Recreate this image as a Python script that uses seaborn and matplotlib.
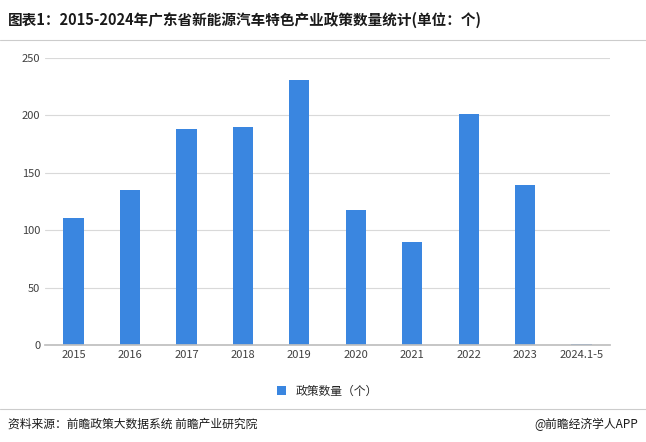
import matplotlib
matplotlib.use("Agg")
import matplotlib.pyplot as plt
import seaborn as sns
import pandas as pd

categories = ["2015","2016","2017","2018","2019","2020","2021","2022","2023","2024.1-5"]
values = [111, 135, 188, 190, 231, 118, 90, 201, 139, 1]
series_name = "政策数量（个）"

sns.set_theme(style="white")
plt.rcParams['font.family'] = ['Noto Sans CJK SC', 'DejaVu Sans']

df = pd.DataFrame({"year": categories, "count": values})
fig = plt.figure(figsize=(6.46, 4.42), dpi=100)
ax = fig.add_axes([0.07, 0.219, 0.874, 0.65])
sns.barplot(data=df, x="year", y="count", color="#3a86e0", width=0.36, ax=ax, saturation=1,
            label=series_name, linewidth=0)
ax.set_ylim(0, 250)
ax.set_yticks(range(0, 251, 50))
ax.yaxis.grid(True, color="#d9d9d9", lw=0.8)
ax.set_axisbelow(True)
for s in ["top", "right", "left"]:
    ax.spines[s].set_visible(False)
ax.spines["bottom"].set_color("#bfbfbf")
ax.set_xlabel(""); ax.set_ylabel("")
ax.tick_params(axis="both", labelsize=8, colors="#404040", length=0)
ax.legend(loc="upper center", bbox_to_anchor=(0.5, -0.1), frameon=False, fontsize=8.5, handlelength=0.8, handleheight=0.8)

fig.text(0.012, 0.955, "图表1：2015-2024年广东省新能源汽车特色产业政策数量统计(单位：个)", fontsize=10.5, fontweight="bold", color="#1a1a1a", va="center")
fig.add_artist(plt.Line2D([0, 1], [0.91, 0.91], color="#cccccc", lw=0.8, transform=fig.transFigure))
fig.add_artist(plt.Line2D([0, 1], [0.075, 0.075], color="#cccccc", lw=0.8, transform=fig.transFigure))
fig.text(0.012, 0.04, "资料来源：前瞻政策大数据系统 前瞻产业研究院", fontsize=8.5, color="#1a1a1a", va="center")
fig.text(0.988, 0.04, "@前瞻经济学人APP", fontsize=8.5, color="#1a1a1a", va="center", ha="right")
fig.savefig("out.png", dpi=100)
